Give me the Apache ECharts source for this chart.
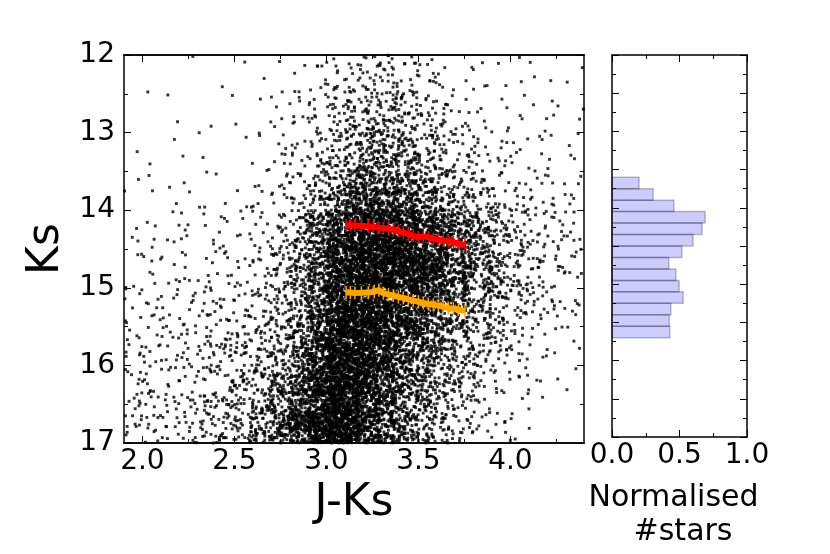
<!DOCTYPE html>
<html>
<head>
<meta charset="utf-8">
<script src="https://cdn.jsdelivr.net/npm/echarts@6.0.0/dist/echarts.min.js"></script>
<style>
  html, body { margin: 0; padding: 0; background: #fff; }
  #chart { width: 830px; height: 554px; }
</style>
</head>
<body>
<div id="chart"></div>
<script>
// colour-magnitude diagram, star counts per cell
// cells: J-Ks 1.9..4.4 in 0.1 steps (columns), Ks 12..17 in 0.25 steps (rows)
var jkStart = 1.9, jkStep = 0.1;
var ksStart = 12, ksStep = 0.25;
var starCounts = [
  [0.3,0.3,0.3,0.3,0.3,0.3,0.4,0.6,0.8,1.5,3,5,7,8,8,6,4,2.5,1.5,1.2,1,1,0.8,0.8,0.6],
  [0.3,0.3,0.3,0.3,0.3,0.4,0.5,0.8,1.2,2,3.5,6,10,11,11,9,6,3.5,2,1.5,1.2,1.2,0.8,0.8,0.8],
  [0.3,0.3,0.3,0.3,0.4,0.5,0.6,1,1.8,3,5,9,14,17,17,13,9,5.5,3,2,2,1.5,1.2,1.2,1.2],
  [0.3,0.3,0.3,0.4,0.5,0.5,0.7,1.3,2.2,4,6.5,10,17,21,21,16,11,7.5,4.5,3,2.5,2,1.5,1.5,1.2],
  [0.3,0.4,0.5,0.5,0.5,0.6,0.8,1.5,3,4.5,8,13,22,27,27,22,15,10,6,4,3,2.5,2,1.8,1.5],
  [0.5,0.5,0.5,0.6,0.7,0.8,1,1.8,3.5,6,11,17,29,34,34,28,19,13,9,6,4,3.5,3,2.2,2],
  [0.7,0.7,0.8,0.9,1,1,1.3,2.2,4.5,8,15,24,42,48,46,38,28,19,12,9,6,4.5,4,3,2],
  [1,1,1.1,1.2,1.3,1.4,1.7,3,5,9,19,34,64,72,68,55,40,28,19,13,9,6,4.5,3.5,3],
  [1.5,1.6,1.8,2,2.3,2.6,3,4.5,8,18,40,70,105,115,110,95,75,55,38,25,15,9,6,4.5,3.5],
  [2,2,2.2,2.4,2.7,3,3.5,5,10,24,48,88,120,125,125,115,92,70,50,33,20,12,8,6,4],
  [2.5,2.5,2.5,2.5,3,3,4,5,13,28,52,95,125,130,130,120,102,76,54,35,22,14,9,6,4],
  [2.5,2.5,2.5,2.8,3.5,4,4.5,7,14,28,52,95,125,125,125,114,94,68,48,31,20,13,8,5,3],
  [3.5,3.5,3.5,4,5,5.5,6,9,14,26,54,105,125,125,120,102,80,58,40,27,17,11,7,4,3],
  [4,4,4,4.5,6,7,8,11,16,30,60,115,130,128,108,86,64,46,31,22,14,9,5,4,2.5],
  [4.5,4.5,4.5,5,7.5,8.5,11,12,19,34,70,125,130,120,92,70,50,35,24,17,11,7,4,2.5,1.5],
  [5,5,5,5.5,8.5,9.5,13,15,23,42,80,130,130,108,80,58,42,29,19,13,8,5,2.5,1.5,1],
  [5.5,5.5,5.5,6,9,10,15,18,28,52,96,135,130,102,72,50,34,22,15,10,6,4,2,1.2,0.7],
  [6,6,6,6.5,10,12,16,22,36,64,108,140,130,96,66,44,29,19,12,7,4,2.5,1.2,0.6,0.4],
  [6,6,6,7,11,14,19,28,45,80,125,145,130,90,60,39,25,16,9,5,3,2,0.7,0.4,0.3],
  [6,6,6,7,11,14,20,30,48,86,130,150,130,86,55,36,23,14,8,4,2.5,1.3,0.6,0.3,0.1]
];

// red clump sequences
var redClumpJK = [3.107,3.13,3.155,3.19,3.228,3.255,3.282,3.31,3.337,3.364,3.391,3.418,3.445,3.472,3.50,3.527,3.554,3.581,3.608,3.635,3.662,3.69,3.717,3.753];
var redClumpKs = [14.196,14.19,14.196,14.2,14.209,14.215,14.226,14.23,14.24,14.25,14.27,14.29,14.31,14.33,14.35,14.34,14.35,14.37,14.38,14.39,14.40,14.41,14.43,14.45];
var bumpJK = [3.107,3.13,3.155,3.19,3.228,3.26,3.285,3.31,3.337,3.364,3.391,3.418,3.445,3.472,3.50,3.527,3.554,3.581,3.608,3.635,3.662,3.69,3.717,3.753];
var bumpKs = [15.062,15.06,15.066,15.065,15.062,15.05,15.03,15.07,15.088,15.10,15.118,15.13,15.148,15.165,15.18,15.195,15.21,15.22,15.23,15.245,15.26,15.27,15.28,15.30];

// histogram of Ks, normalised
var histStart = 13.6, histWidth = 0.15;
var histValues = [0.20,0.305,0.458,0.69,0.667,0.60,0.517,0.42,0.473,0.497,0.527,0.436,0.424,0.428];

// ticks
var jkTicks = [2.0, 2.5, 3.0, 3.5, 4.0];
var jkMinorTicks = [2.25, 2.75, 3.25, 3.75, 4.25];

var FONT = "DejaVu Sans";

// spread each cell's count over the cell (fixed hash, so the picture is stable)
function spot(k, seed) {
  var x = Math.sin(k * 12.9898 + seed * 78.233) * 43758.5453;
  return x - Math.floor(x);
}

function buildStars() {
  var pts = [];
  var carry = 0, k = 0;
  for (var r = 0; r < starCounts.length; r++) {
    for (var c = 0; c < starCounts[r].length; c++) {
      carry += starCounts[r][c];
      var n = Math.floor(carry);
      carry -= n;
      for (var i = 0; i < n; i++) {
        k++;
        pts.push([jkStart + (c + spot(k, 1)) * jkStep, ksStart + (r + spot(k, 2)) * ksStep]);
      }
    }
  }
  return pts;
}

function zip(a, b) {
  return a.map(function (v, i) { return [v, b[i]]; });
}

var tickLine = { color: "#000", width: 1 };
var frameLine = { show: true, onZero: false, lineStyle: { color: "#000", width: 1.5 } };

function jkAxis(pos, values, len, labels) {
  return {
    type: "value", gridIndex: 0, position: pos, min: 1.9, max: 4.4,
    axisLine: frameLine,
    splitLine: { show: false },
    axisTick: { show: true, inside: true, length: len, customValues: values, lineStyle: tickLine },
    axisLabel: {
      show: !!labels, customValues: values, margin: 5,
      formatter: function (v) { return v.toFixed(1); },
      fontFamily: FONT, fontSize: 28, color: "#000"
    }
  };
}

var xAxes = [
  jkAxis("bottom", jkTicks, 7, true),
  jkAxis("bottom", jkMinorTicks, 4, false),
  jkAxis("top", jkTicks, 7, false),
  jkAxis("top", jkMinorTicks, 4, false),
  {
    type: "value", gridIndex: 1, position: "bottom", min: 0, max: 1, interval: 0.5,
    axisLine: frameLine, splitLine: { show: false },
    axisTick: { show: true, inside: true, length: 7, lineStyle: tickLine },
    minorTick: { show: true, splitNumber: 2, length: 4, lineStyle: tickLine },
    axisLabel: {
      margin: 5, formatter: function (v) { return v.toFixed(1); },
      fontFamily: FONT, fontSize: 28, color: "#000"
    },
    name: "Normalised\n  #stars", nameLocation: "middle", nameGap: 44,
    nameTextStyle: { fontFamily: FONT, fontSize: 30, lineHeight: 34, color: "#000", padding: [0, 12, 0, 0] }
  },
  {
    type: "value", gridIndex: 1, position: "top", min: 0, max: 1, interval: 0.5,
    axisLine: frameLine, splitLine: { show: false },
    axisTick: { show: true, inside: true, length: 7, lineStyle: tickLine },
    minorTick: { show: true, splitNumber: 2, length: 4, lineStyle: tickLine },
    axisLabel: { show: false }
  }
];
xAxes[0].name = "J-Ks";
xAxes[0].nameLocation = "middle";
xAxes[0].nameGap = 39;
xAxes[0].nameTextStyle = { fontFamily: FONT, fontSize: 44, color: "#000" };

function ksAxis(grid, pos, interval, labels) {
  return {
    type: "value", gridIndex: grid, position: pos, inverse: true, min: 12, max: 17, interval: interval,
    axisLine: frameLine, splitLine: { show: false },
    axisTick: { show: true, inside: true, length: 7, lineStyle: tickLine },
    minorTick: { show: true, splitNumber: 2, length: 4, lineStyle: tickLine },
    axisLabel: { show: labels, margin: 9, fontFamily: FONT, fontSize: 28, color: "#000" }
  };
}

var yAxes = [
  ksAxis(0, "left", 1, true),
  ksAxis(0, "right", 1, false),
  ksAxis(1, "left", 0.5, false),
  ksAxis(1, "right", 0.5, false)
];
yAxes[0].name = "Ks";
yAxes[0].nameLocation = "middle";
yAxes[0].nameGap = 52;
yAxes[0].nameTextStyle = { fontFamily: FONT, fontSize: 44, color: "#000" };

var chart = echarts.init(document.getElementById("chart"), null, { renderer: "canvas" });
chart.setOption({
  animation: false,
  backgroundColor: "#fff",
  grid: [
    { left: 124, top: 55, width: 460, height: 388 },
    { left: 612, top: 55, width: 135, height: 388 }
  ],
  xAxis: xAxes,
  yAxis: yAxes,
  series: [
    {
      type: "scatter", xAxisIndex: 0, yAxisIndex: 0,
      data: buildStars(),
      symbol: "rect", symbolSize: 2.9,
      itemStyle: { color: "#000" },
      large: false, progressive: 0, clip: true, silent: true
    },
    {
      type: "line", xAxisIndex: 0, yAxisIndex: 0, z: 5,
      data: zip(redClumpJK, redClumpKs),
      lineStyle: { color: "#ff0000", width: 6 },
      symbol: "rect", symbolSize: [1.5, 13], showSymbol: true,
      itemStyle: { color: "#ff0000" }
    },
    {
      type: "line", xAxisIndex: 0, yAxisIndex: 0, z: 5,
      data: zip(bumpJK, bumpKs),
      lineStyle: { color: "#ffa500", width: 6 },
      symbol: "rect", symbolSize: [1.5, 13], showSymbol: true,
      itemStyle: { color: "#ffa500" }
    },
    {
      type: "custom", xAxisIndex: 4, yAxisIndex: 2,
      data: histValues.map(function (v, i) { return [histStart + i * histWidth, v]; }),
      encode: { x: 1, y: 0 },
      renderItem: function (params, api) {
        var lo = api.value(0), len = api.value(1);
        var p0 = api.coord([0, lo]);
        var p1 = api.coord([len, lo + histWidth]);
        return {
          type: "rect",
          shape: { x: p0[0], y: p0[1], width: p1[0] - p0[0], height: p1[1] - p0[1] },
          style: { fill: "rgba(0,0,255,0.2)", stroke: "rgba(0,0,0,0.25)", lineWidth: 1.5 }
        };
      }
    }
  ]
});
</script>
</body>
</html>
